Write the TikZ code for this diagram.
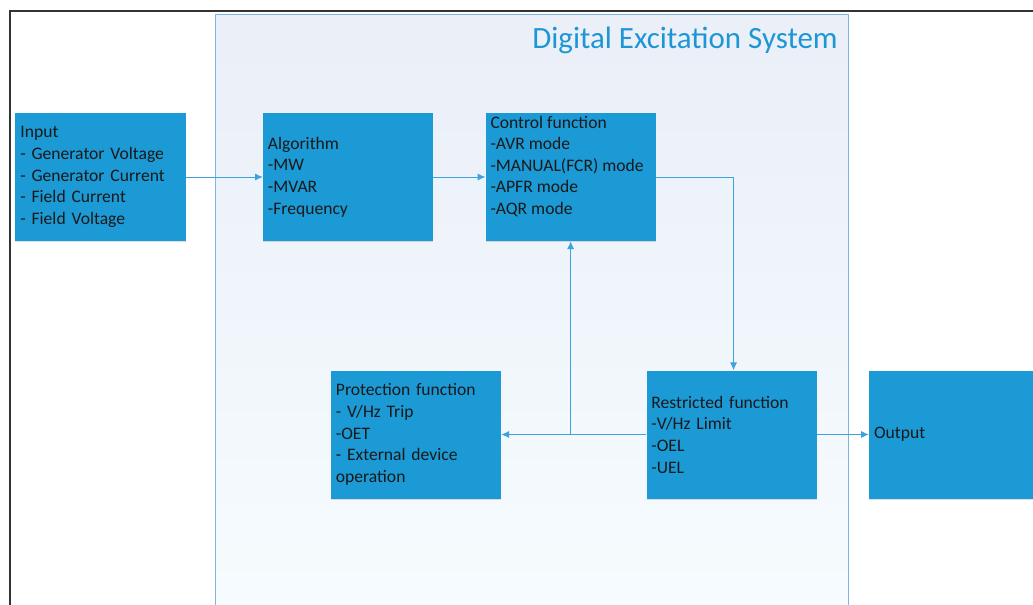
\documentclass[tikz,border=0pt]{standalone}
\usepackage{fontspec}
\setmainfont{Carlito}
\usetikzlibrary{positioning,arrows.meta,shadows}
\definecolor{boxblue}{RGB}{27,154,214}
\definecolor{linkblue}{RGB}{62,162,220}
\definecolor{frameblue}{RGB}{125,182,224}
\definecolor{titleblue}{RGB}{30,150,214}
\definecolor{bgtop}{RGB}{234,239,248}
\definecolor{bgbot}{RGB}{246,252,254}
\tikzset{
  blocktext/.style={text=black!90, align=left, inner xsep=3.5pt, inner ysep=2pt,
    font=\fontsize{12.5pt}{15.4pt}\selectfont},
  block/.style={blocktext, rectangle, fill=boxblue, minimum width=4.25cm, minimum height=3.2cm,
    text width=4.25cm-7pt, drop shadow={shadow xshift=0pt, shadow yshift=-1pt, opacity=0.25, fill=black!50}},
  flow/.style={draw=linkblue, line width=0.6pt, -{Latex[length=5.5pt,width=5pt]}}
}

\begin{document}
\begin{tikzpicture}
    \clip (0,0) rectangle (25.825,-15.125);
    \draw[black!80, line width=1pt] (0.25,-15.3) -- (0.25,-0.275) -- (26,-0.275);
    \node[draw=frameblue, top color=bgtop, bottom color=bgbot, minimum width=15.825cm, minimum height=15.2cm, anchor=north west] (des) at (5.375,-0.35) {};
    \node[anchor=east, text=titleblue, inner sep=0pt, font=\fontsize{22pt}{24pt}\selectfont] (title) at (20.95,-1.0) {Digital Excitation System};

    \node[block] (input) at (2.5125,-4.425) {Input\\- Generator Voltage\\- Generator Current\\- Field Current\\- Field Voltage};
    \node[block, right=1.925cm of input] (algo) {Algorithm\\-MW\\-MVAR\\-Frequency};
    \node[block, right=1.3cm of algo] (ctrl) {};
    \node[blocktext, anchor=north west] (ctrltext) at (ctrl.north west) {Control function\\-AVR mode\\-MANUAL(FCR) mode\\-APFR mode\\-AQR mode};
    \node[block] (prot) at (10.4,-10.8625) {Protection function\\- V/Hz Trip\\-OET\\- External device\\operation};
    \node[block, right=3.625cm of prot] (rest) {Restricted function\\-V/Hz Limit\\-OEL\\-UEL};
    \node[block, right=1.3cm of rest, minimum width=4.6cm, text width=4.6cm-7pt] (out) {Output};

    \draw[flow] (input.east) -- (algo.west);
    \draw[flow] (algo.east) -- (ctrl.west);
    \draw[flow] (ctrl.east) -| ([xshift=0.05cm]rest.north);
    \draw[flow] (rest.west) -- (prot.east);
    \draw[flow] (ctrl.south |- rest.west) -- (ctrl.south);
    \draw[flow] (rest.east) -- (out.west);
\end{tikzpicture}
\end{document}
